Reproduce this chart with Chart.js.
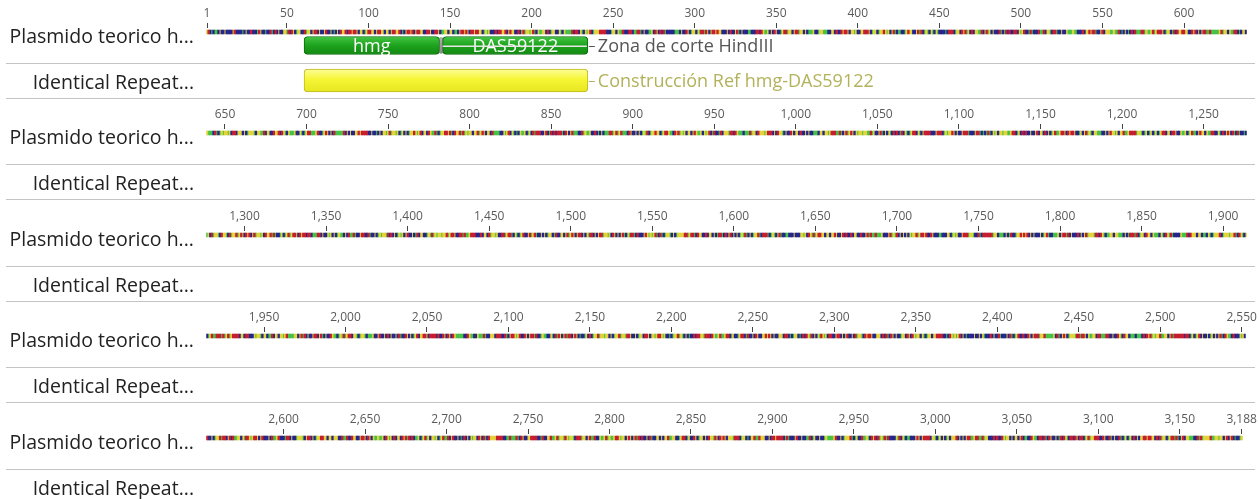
<!DOCTYPE html>
<html>
<head>
<meta charset="utf-8">
<script src="https://cdn.jsdelivr.net/npm/chart.js@4.4.0/dist/chart.umd.min.js"></script>
<style>
body{margin:0;background:#fff;font-family:'Open Sans',sans-serif;}
#wrap{position:relative;width:1259px;height:499px;overflow:hidden;background:#fff;}
.blk{position:absolute;left:0;width:1259px;height:101px;}
.blk canvas{position:absolute;left:0;top:0;}
.lbl{position:absolute;right:1065px;font-size:19.5px;line-height:24px;color:#222;white-space:nowrap;}
.sep{position:absolute;left:6px;width:1249px;height:1px;background:#c4c4c4;}
</style>
</head>
<body>
<div id="wrap"></div>
<script>
// sequence, 10 bases per group, 100 per line (3188 bp)
var seqLines=[
'GACTCTTCGC CGCCCCGACC CCTCGCCACC CTAGCCTCCA TCACGCCGGT ACAGCTGGCC ATGGCGAACG CCGACCGCTC GCAGGACAAG AAGCGGCTGA',
'AGGCGAAGGC GGCGAAGGAC TCGAAGACGA AGGCCAAGCC AAGCTTGGCG GCTTCGAAGA GCAAGAAGGC TGTGCCCACA AGGACGAGGC CACGATGGTG',
'ATCGTTGGCA CTGGCCGTCG TTTTACAACG TCGTGACTGG GAAAACCCTG GCGTTACCCA ACTTAATCGC CTTGCAGCAC ATCCCCCTTT CGCCAGCTGG',
'CGTAATAGCG AAGAGGCCCG CACCGATCGC CCTTCCCAAC AGTTGCGCAG CCTGAATGGC GAATGGCGCT TTGCCTGGTT TCCGGCACCA GAAGCGGTGC',
'CGGAAAGCTG GCTGGAGTGC GATCTTCCTG AGGCCGATAC TGTCGTCGTC CCCTCAAACT GGCAGATGCA CGGTTACGAT GCGCCCATCT ACACCAACGT',
'GACCTATCCC ATTACGGTCA ATCCGCCGTT TGTTCCCACG GAGAATCCGA CGGGTTGTTA CTCGCTCACA TTTAATGTTG ATGAAAGCTG GCTACAGGAA',
'GGCCAGACGC GAATTATTTT TGATGGCGTT AACTCGGCGT TTCATCTGTG GTGCAACGGG CGCTGGGTCG GTTACGGCCA GGACAGTCGT TTGCCGTCTG',
'AATTTGACCT GAGCGCATTT TTACGCGCCG GAGAAAACCG CCTCGCGGTG ATGGTGCTGC GCTGGAGTGA CGGCAGTTAT CTGGAAGATC AGGATATGTG',
'GCGGATGAGC GGCATTTTCC GTGACGTCTC GTTGCTGCAT AAACCGACTA CACAAATCAG CGATTTCCAT GTTGCCACTC GCTTTAATGA TGATTTCAGC',
'CGCGCTGTAC TGGAGGCTGA AGTTCAGATG TGCGGCGAGT TGCGTGACTA CCTACGGGTA ACAGTTTCTT TATGGCAGGG TGAAACGCAG GTCGCCAGCG',
'GCACCGCGCC TTTCGGCGGT GAAATTATCG ATGAGCGTGG TGGTTATGCC GATCGCGTCA CACTACGTCT GAACGTCGAA AACCCGAAAC TGTGGAGCGC',
'CGAAATCCCG AATCTCTATC GTGCGGTGGT TGAACTGCAC ACCGCCGACG GCACGCTGAT TGAAGCAGAA GCCTGCGATG TCGGTTTCCG CGAGGTGCGG',
'ATTGAAAATG GTCTGCTGCT GCTGAACGGC AAGCCGTTGC TGATTCGAGG CGTTAACCGT CACGAGCATC ATCCTCTGCA TGGTCAGGTC ATGGATGAGC',
'AGACGATGGT GCAGGATATC CTGCTGATGA AGCAGAACAA CTTTAACGCC GTGCGCTGTT CGCATTATCC GAACCATCCG CTGTGGTACA CGCTGTGCGA',
'CCGCTACGGC CTGTATGTGG TGGATGAAGC CAATATTGAA ACCCACGGCA TGGTGCCAAT GAATCGTCTG ACCGATGATC CGCGCTGGCT ACCGGCGATG',
'AGCGAACGCG TAACGCGAAT GGTGCAGCGC GATCGTAATC ACCCGAGTGT GATCATCTGG TCGCTGGGGA ATGAATCAGG CCACGGCGCT AATCACGACG',
'CGCTGTATCG CTGGATCAAA TCTGTCGATC CTTCCCGCCC GGTGCAGTAT GAAGGCGGCG GAGCCGACAC CACGGCCACC GATATTATTT GCCCGATGTA',
'CGCGCGCGTG GATGAAGACC AGCCCTTCCC GGCTGTGCCG AAATGGTCCA TCAAAAAATG GCTTTCGCTA CCTGGAGAGA CGCGCCCGCT GATCCTTTGC',
'GAATACGCCC ACGCGATGGG TAACAGTCTT GGCGGTTTCG CTAAATACTG GCAGGCGTTT CGTCAGTATC CCCGTTTACA GGGCGGCTTC GTCTGGGACT',
'GGGTGGATCA GTCGCTGATT AAATATGATG AAAACGGCAA CCCGTGGTCG GCTTACGGCG GTGATTTTGG CGATACGCCG AACGATCGCC AGTTCTGTAT',
'GAACGGTCTG GTCTTTGCCG ACCGCACGCC GCATCCAGCG CTGACGGAAG CAAAACACCA GCAGCAGTTT TTCCAGTTCC GTTTATCCGG GCAAACCATC',
'GAAGTGACCA GCGAATACCT GTTCCGTCAT AGCGATAACG AGCTCCTGCA CTGGATGGTG GCGCTGGATG GTAAGCCGCT GGCAAGCGGT GAAGTGCCTC',
'TGGATGTCGC TCCACAAGGT AAACAGTTGA TTGAACTGCC TGAACTACCG CAGCCGGAGA GCGCCGGGCA ACTCTGGCTC ACAGTACGCG TAGTGCAACC',
'GAACGCGACC GCATGGTCAG AAGCCGGGCA CATCAGCGCC TGGCAGCAGT GGCGTCTGGC GGAAAACCTC AGTGTGACGC TCCCCGCCGC GTCCCACGCC',
'ATCCCGCATC TGACCACCAG CGAAATGGAT TTTTGCATCG AGCTGGGTAA TAAGCGTTGG CAATTTAACC GCCAGTCAGG CTTTCTTTCA CAGATGTGGA',
'TTGGCGATAA AAAACAACTG CTGACGCCGC TGCGCGATCA GTTCACCCGT GCACCGCTGG ATAACGACAT TGGCGTAAGT GAAGCGACCC GCATTGACCC',
'TAACGCCTGG GTCGAACGCT GGAAGGCGGC GGGCCATTAC CAGGCCGAAG CAGCGTTGTT GCAGTGCACG GCAGATACAC TTGCTGATGC GGTGCTGATT',
'ACGACCGCTC ACGCGTGGCA GCATCAGGGG AAAACCTTAT TTATCAGCCG GAAAACCTAC CGGATTGATG GTAGTGGTCA AATGGCGATT ACCGTTGATG',
'TTGAAGTGGC GAGCGATACA CCGCATCCGG CGCGGATTGG CCTGAACTGC CAGCTGGCGC AGGTAGCAGA GCGGGTAAAC TGGCTCGGAT TAGGGCCGCA',
'AGAAAACTAT CCCGACCGCC TTACTGCCGC CTGTTTTGAC CGCTGGGATC TGCCATTGTC AGACATGTAT ACCCCGTACG TCTTCCCGAG CGAAAACGGT',
'CTGCGCTGCG GGACGCGCGA ATTGAATTAT GGCCCACACC AGTGGCGCGG CGACTTCCAG TTCAACATCA GCCGCTACAG TCAACAGCAA CTGATGGAAA',
'CCAGCCATCG CCATCTGCTG CACGCGGAAG AAGGCACATG GCTGAATATC GACGGTTTCC ATATGGGGAT TGGTGGCGAC GACTCCTG'
];
var plasmidSeq=seqLines.join('').replace(/\s+/g,'');

var baseNames=['A','C','G','T'];
var baseColors=['#c41e30','#25258c','#e4d23c','#46c246'];

var rowStarts=[1,639,1277,1915,2553];
var rowEnds=[638,1276,1914,2552,3188];
var rowTicks=[
    [1,50,100,150,200,250,300,350,400,450,500,550,600],
    [650,700,750,800,850,900,950,1000,1050,1100,1150,1200,1250],
    [1300,1350,1400,1450,1500,1550,1600,1650,1700,1750,1800,1850,1900],
    [1950,2000,2050,2100,2150,2200,2250,2300,2350,2400,2450,2500,2550],
    [2600,2650,2700,2750,2800,2850,2900,2950,3000,3050,3100,3150,3188]
];
var trackNames=['Plasmido teorico h...','Identical Repeat...'];

var featNames=['hmg','DAS59122','Zona de corte HindIII','Construcción Ref hmg-DAS59122'];
var featFrom=[61,146,144,61];
var featTo=[143,234,145,234];
var featKind=['gene','gene','site','repeat'];

// layout
var ROW_BASES=638, AXIS_H=28, BLOCK_H=101;
var blockTops=[0,101,203,304,406];
var LANE={bases:4,gene:17.5,site:17.5,repeat:52.5};   // px below axis
var kindStyle={
    gene:{h:18,top:'#45c645',mid:'#20a620',bot:'#108810',border:'#0b6b0b',radius:4,label:'#555'},
    site:{h:16,top:'#b8b8b8',mid:'#9a9a9a',bot:'#8a8a8a',border:'#888',radius:1,label:'#555'},
    repeat:{h:23,top:'#fdfd9a',mid:'#f6f636',bot:'#e6e620',border:'#c2b820',radius:4,label:'#b2b25a'}
};
var trackOf={gene:'plasmid',site:'plasmid',repeat:'repeat'};

function boxFill(st,lane){
    return function(c){
        var ch=c.chart, ys=ch.scales.y;
        if(!ys||!ch.chartArea) return st.mid;
        var yc=ys.getPixelForValue(lane);
        if(!isFinite(yc)) return st.mid;
        var g=ch.ctx.createLinearGradient(0,yc-st.h/2,0,yc+st.h/2);
        g.addColorStop(0,st.top);g.addColorStop(0.45,st.mid);g.addColorStop(1,st.bot);
        return g;
    };
}

var featLabels={
    id:'featLabels',
    afterDatasetsDraw:function(chart){
        var ctx=chart.ctx, right={};
        chart.data.datasets.forEach(function(d,di){
            if(d.feat===undefined) return;
            var el=chart.getDatasetMeta(di).data[0], t=trackOf[featKind[d.feat]];
            right[t]=Math.max(right[t]||0,Math.max(el.x,el.base));
        });
        chart.data.datasets.forEach(function(d,di){
            if(d.feat===undefined) return;
            var i=d.feat, el=chart.getDatasetMeta(di).data[0];
            var x0=Math.min(el.x,el.base), x1=Math.max(el.x,el.base), y=Math.round(el.y);
            var st=kindStyle[featKind[i]], t=trackOf[featKind[i]];
            ctx.save();
            ctx.font='18px "Open Sans"';
            ctx.textBaseline='middle';
            var w=ctx.measureText(featNames[i]).width;
            if(featKind[i]==='gene' && w+12<x1-x0){
                ctx.fillStyle='#fff';ctx.textAlign='center';
                ctx.fillText(featNames[i],(x0+x1)/2,y+1);
            }else{
                var lx=right[t]+10;
                ctx.lineWidth=1.5;
                if(right[t]>x1+1){
                    ctx.strokeStyle='#e6e6e6';
                    ctx.beginPath();ctx.moveTo(x1,y+0.25);ctx.lineTo(right[t]-1,y+0.25);ctx.stroke();
                }
                ctx.strokeStyle=st.label;ctx.lineWidth=1;
                ctx.beginPath();ctx.moveTo(right[t]+1,y+0.5);ctx.lineTo(lx-3,y+0.5);ctx.stroke();
                ctx.fillStyle=st.label;ctx.textAlign='left';
                ctx.fillText(featNames[i],lx,y+1);
            }
            ctx.restore();
        });
    }
};

function makeRow(r){
    var wrap=document.getElementById('wrap');
    var blk=document.createElement('div');
    blk.className='blk';
    blk.style.top=blockTops[r]+'px';
    var cv=document.createElement('canvas');
    cv.width=1259;cv.height=BLOCK_H;
    cv.style.width='1259px';cv.style.height=BLOCK_H+'px';
    blk.appendChild(cv);
    blk.insertAdjacentHTML('beforeend',
        '<div class="lbl" style="top:24px">'+trackNames[0]+'</div>'+
        '<div class="sep" style="top:63px"></div>'+
        '<div class="lbl" style="top:70px">'+trackNames[1]+'</div>'+
        (r<4?'<div class="sep" style="top:98px"></div>':''));
    wrap.appendChild(blk);

    var ds=[];
    baseNames.forEach(function(b,k){
        var pts=[];
        for(var p=rowStarts[r];p<=rowEnds[r];p++){
            if(plasmidSeq.charAt(p-1)===b) pts.push({x:[p-0.5,p+0.5],y:LANE.bases});
        }
        ds.push({data:pts,backgroundColor:baseColors[k],barThickness:4,grouped:false,borderWidth:0,borderSkipped:false});
    });
    featNames.forEach(function(n,i){
        if(featTo[i]<rowStarts[r]||featFrom[i]>rowEnds[r]) return;
        var st=kindStyle[featKind[i]], lane=LANE[featKind[i]];
        ds.push({
            feat:i,
            data:[{x:[Math.max(featFrom[i],rowStarts[r])-0.5,Math.min(featTo[i],rowEnds[r])+0.5],y:lane}],
            backgroundColor:boxFill(st,lane),
            borderColor:st.border,borderWidth:1,borderSkipped:false,borderRadius:st.radius,
            barThickness:st.h,grouped:false
        });
    });

    var tv=rowTicks[r];
    new Chart(cv.getContext('2d'),{
        type:'bar',
        data:{datasets:ds},
        options:{
            indexAxis:'y',
            responsive:false,
            animation:false,
            devicePixelRatio:1,
            layout:{padding:{left:206.2,right:12.2,top:0,bottom:0}},
            plugins:{legend:{display:false},tooltip:{enabled:false}},
            scales:{
                x:{
                    type:'linear',position:'top',
                    min:rowStarts[r]-0.5,max:rowStarts[r]-0.5+ROW_BASES,
                    afterBuildTicks:function(s){s.ticks=tv.map(function(v){return {value:v};});},
                    afterFit:function(s){s.height=AXIS_H;},
                    ticks:{
                        autoSkip:false,maxRotation:0,padding:2,color:'#5a5a5a',
                        font:{family:'Open Sans',size:12},
                        callback:function(v){return Number(v).toLocaleString('en-US');}
                    },
                    grid:{drawOnChartArea:false,drawTicks:true,tickLength:5,color:'#444',lineWidth:1},
                    border:{display:false}
                },
                y:{type:'linear',display:false,min:0,max:BLOCK_H-AXIS_H,reverse:true,offset:false}
            }
        },
        plugins:[featLabels]
    });
}

for(var r=0;r<rowStarts.length;r++) makeRow(r);
</script>
</body>
</html>
